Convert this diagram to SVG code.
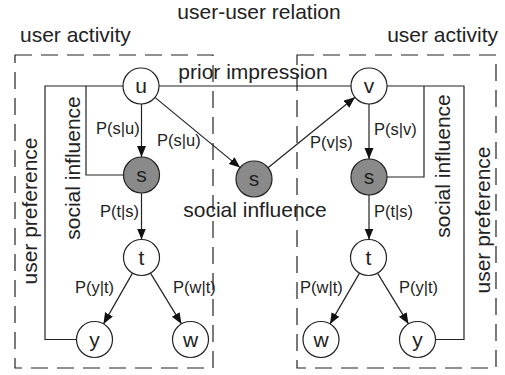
<svg xmlns="http://www.w3.org/2000/svg" width="505" height="375" viewBox="0 0 505 375">
<style>
text{font-family:"Liberation Sans",Arial,sans-serif;fill:#222}
.big{font-size:21px}
.lbl{font-size:16.5px}
.node{fill:#fff;stroke:#222;stroke-width:1.2}
.dark{fill:#8a8a8a;stroke:#222;stroke-width:1.2}
.nt{font-size:21px;text-anchor:middle}
.box{fill:none;stroke:#222;stroke-width:1.2;stroke-dasharray:17 9}
.ln{fill:none;stroke:#222;stroke-width:1.2}
.ar{fill:none;stroke:#222;stroke-width:1.2;marker-end:url(#ah)}
</style>
<defs>
<marker id="ah" markerUnits="userSpaceOnUse" markerWidth="12" markerHeight="10" refX="11" refY="4.5" orient="auto">
<path d="M0,0 L11,4.5 L0,9 z" fill="#111"/>
</marker>
</defs>
<rect width="505" height="375" fill="#fff"/>
<g id="boxes">
<rect class="box" x="15" y="55" width="198" height="313"/>
<rect class="box" x="297" y="55" width="199" height="313"/>
</g>
<g id="labels">
<text class="big" x="259" y="19" text-anchor="middle">user-user relation</text>
<text class="big" x="20" y="42">user activity</text>
<text class="big" x="498" y="42" text-anchor="end">user activity</text>
<text class="big" x="253" y="79" text-anchor="middle">prior impression</text>
<text class="big" x="255" y="217" text-anchor="middle">social influence</text>
<text class="big" transform="translate(37,211) rotate(-90)" text-anchor="middle">user preference</text>
<text class="big" transform="translate(80,168) rotate(-90)" text-anchor="middle">social influence</text>
<text class="big" transform="translate(450,166) rotate(-90)" text-anchor="middle">social influence</text>
<text class="big" transform="translate(490,220) rotate(-90)" text-anchor="middle">user preference</text>
</g>
<g id="connectors">
<path class="ln" d="M123,86 H45 V339.5 H76.5"/>
<path class="ln" d="M86,86 V175 H123.5"/>
<path class="ln" d="M159,86 H351"/>
<path class="ln" d="M387,86 H464 V339.5 H435.5"/>
<path class="ln" d="M424,86 V177 H387"/>
<path class="ar" d="M141.5,104 V157"/>
<path class="ar" d="M154.9,97.4 L240.1,167.6"/>
<path class="ar" d="M268,167.7 L355,97.3"/>
<path class="ar" d="M369,104 V159"/>
<path class="ar" d="M141.5,193 V239.5"/>
<path class="ar" d="M369,195 V239.5"/>
<path class="ar" d="M132.5,273.1 L103.5,323.9"/>
<path class="ar" d="M150.5,273.1 L181.5,323.9"/>
<path class="ar" d="M359.5,273.1 L330,323.9"/>
<path class="ar" d="M377.5,273.1 L408.5,323.9"/>
<text class="lbl" x="96" y="134">P(s|u)</text>
<text class="lbl" x="157" y="146">P(s|u)</text>
<text class="lbl" x="310" y="148">P(v|s)</text>
<text class="lbl" x="374" y="135">P(s|v)</text>
<text class="lbl" x="100" y="217">P(t|s)</text>
<text class="lbl" x="374" y="217">P(t|s)</text>
<text class="lbl" x="75" y="293">P(y|t)</text>
<text class="lbl" x="173" y="293">P(w|t)</text>
<text class="lbl" x="300" y="293">P(w|t)</text>
<text class="lbl" x="399" y="293">P(y|t)</text>
</g>
<g id="node-u"><circle class="node" cx="141" cy="86" r="18"/><text class="nt" x="141" y="93">u</text></g>
<g id="node-s1"><circle class="dark" cx="141.5" cy="175" r="18"/><text class="nt" x="141.5" y="182">s</text></g>
<g id="node-s2"><circle class="dark" cx="254" cy="179" r="18"/><text class="nt" x="254" y="186">s</text></g>
<g id="node-v"><circle class="node" cx="369" cy="86" r="18"/><text class="nt" x="369" y="93">v</text></g>
<g id="node-s3"><circle class="dark" cx="369" cy="177" r="18"/><text class="nt" x="369" y="184">s</text></g>
<g id="node-t1"><circle class="node" cx="141.5" cy="257.5" r="18"/><text class="nt" x="141.5" y="264.5">t</text></g>
<g id="node-y1"><circle class="node" cx="94.5" cy="339.5" r="18"/><text class="nt" x="94.5" y="346.5">y</text></g>
<g id="node-w1"><circle class="node" cx="190.5" cy="339.5" r="18"/><text class="nt" x="190.5" y="346.5">w</text></g>
<g id="node-t2"><circle class="node" cx="368.5" cy="257.5" r="18"/><text class="nt" x="368.5" y="264.5">t</text></g>
<g id="node-w2"><circle class="node" cx="321" cy="339.5" r="18"/><text class="nt" x="321" y="346.5">w</text></g>
<g id="node-y2"><circle class="node" cx="417.5" cy="339.5" r="18"/><text class="nt" x="417.5" y="346.5">y</text></g>
</svg>
